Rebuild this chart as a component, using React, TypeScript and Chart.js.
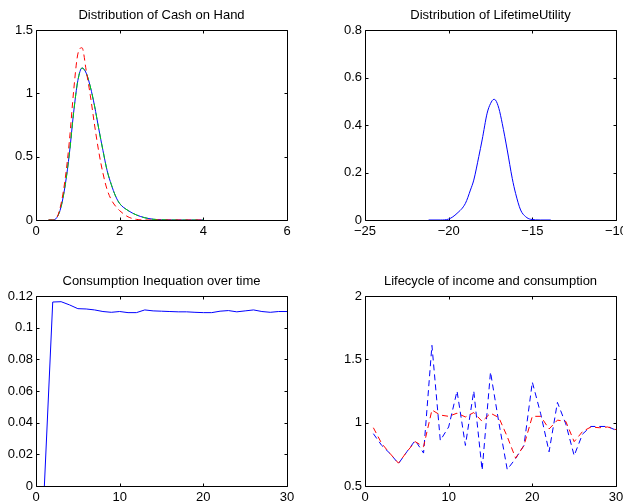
import React, { useEffect, useRef } from "react";
import { Chart, registerables } from "chart.js";

Chart.register(...registerables);

// ---------- data ----------
const cashGrid = [0.3, 0.4, 0.5, 0.6, 0.7, 0.8, 0.9, 1.0, 1.1, 1.2, 1.3, 1.4, 1.5, 1.6, 1.7, 1.8, 1.9, 2.0, 2.2, 2.4, 2.6, 2.8, 3.0, 3.5, 4.0];
const cashDensityMain = [0, 0, 0.02, 0.105, 0.28, 0.53, 0.85, 1.1, 1.2, 1.16, 1.05, 0.9, 0.72, 0.55, 0.39, 0.28, 0.19, 0.13, 0.075, 0.04, 0.018, 0.006, 0.002, 0, 0];
const cashDensityAlt = [0, 0, 0.02, 0.13, 0.33, 0.63, 1.02, 1.31, 1.36, 1.18, 0.98, 0.75, 0.54, 0.37, 0.24, 0.16, 0.11, 0.074, 0.025, 0.005, 0, 0, 0, 0, 0];

const utilityGrid = [-21.2, -20.5, -20.0, -19.5, -19.0, -18.7, -18.5, -18.2, -18.0, -17.7, -17.5, -17.3, -17.2, -17.0, -16.8, -16.5, -16.2, -16.0, -15.7, -15.4, -15.1, -14.5, -13.9];
const utilityDensity = [0, 0, 0.004, 0.028, 0.07, 0.126, 0.168, 0.267, 0.337, 0.45, 0.49, 0.508, 0.505, 0.47, 0.407, 0.295, 0.175, 0.112, 0.042, 0.014, 0.003, 0, 0];

const periods = [1, 2, 3, 4, 5, 6, 7, 8, 9, 10, 11, 12, 13, 14, 15, 16, 17, 18, 19, 20, 21, 22, 23, 24, 25, 26, 27, 28, 29, 30];
const inequality = [0, 0.1162, 0.1164, 0.1144, 0.112, 0.1118, 0.1112, 0.1102, 0.1097, 0.1102, 0.1095, 0.1095, 0.1112, 0.1106, 0.1104, 0.1102, 0.11, 0.11, 0.1097, 0.1095, 0.1095, 0.1104, 0.1108, 0.11, 0.1106, 0.1112, 0.1102, 0.1097, 0.1102, 0.1102];
const income = [0.913, 0.82, 0.756, 0.677, 0.77, 0.86, 0.76, 1.61, 0.86, 0.966, 1.25, 0.82, 1.25, 0.625, 1.4, 1.0, 0.63, 0.717, 0.82, 1.32, 1.07, 0.77, 1.16, 0.99, 0.74, 0.91, 0.97, 0.97, 0.97, 0.94];
const consumption = [0.96, 0.835, 0.756, 0.68, 0.77, 0.85, 0.81, 1.1, 1.06, 1.05, 1.075, 1.045, 1.08, 1.01, 1.075, 1.04, 0.89, 0.72, 0.82, 1.05, 1.05, 0.95, 1.02, 1.01, 0.85, 0.93, 0.966, 0.96, 0.966, 0.945];

const cashXTicks = [0, 2, 4, 6];
const cashYTicks = [0, 0.5, 1, 1.5];
const utilityXTicks = [-25, -20, -15, -10];
const utilityYTicks = [0, 0.2, 0.4, 0.6, 0.8];
const timeXTicks = [0, 10, 20, 30];
const inequalityYTicks = [0, 0.02, 0.04, 0.06, 0.08, 0.1, 0.12];
const lifecycleYTicks = [0.5, 1, 1.5, 2];

const titles = [
  "Distribution of Cash on Hand",
  "Distribution of LifetimeUtility",
  "Consumption Inequation over time",
  "Lifecycle of income and consumption",
];

// ---------- style ----------
const BLUE = "#0000ff";
const RED = "#ff0000";
const GREEN = "#00d400";
const FONT = "'Liberation Sans', Arial, Helvetica, sans-serif";
const Y_W = 30;
const X_H = 22;
const R_W = 15;
const TITLE_LINE = 15.6;
const TITLE_GAP = 7.2;
const TITLE_H = TITLE_LINE + TITLE_GAP;
const TICK_LEN = 3;

const pts = (xs: number[], ys: number[]) => xs.map((x, i) => ({ x, y: ys[i] }));
const fmt = (v: number | string) => String(+Number(v).toFixed(4)).replace("-", "\u2212");

const boxPlugin = {
  id: "matlabBox",
  beforeDatasetsDraw(chart: any) {
    const { ctx, chartArea: a, scales } = chart;
    const l = Math.round(a.left) + 0.5;
    const r = Math.round(a.right) + 0.5;
    const t = Math.round(a.top) + 0.5;
    const b = Math.round(a.bottom) + 0.5;
    ctx.save();
    ctx.strokeStyle = "#000";
    ctx.lineWidth = 1;
    ctx.beginPath();
    ctx.rect(l, t, r - l, b - t);
    const xs = scales.x;
    const ys = scales.y;
    xs.ticks.forEach((tk: any) => {
      const px = Math.round(xs.getPixelForValue(tk.value)) + 0.5;
      ctx.moveTo(px, b);
      ctx.lineTo(px, b - TICK_LEN);
      ctx.moveTo(px, t);
      ctx.lineTo(px, t + TICK_LEN);
    });
    ys.ticks.forEach((tk: any) => {
      const py = Math.round(ys.getPixelForValue(tk.value)) + 0.5;
      ctx.moveTo(l, py);
      ctx.lineTo(l + TICK_LEN, py);
      ctx.moveTo(r, py);
      ctx.lineTo(r - TICK_LEN, py);
    });
    ctx.stroke();
    ctx.restore();
  },
};

type Panel = {
  canvas: { left: number; top: number; width: number; height: number };
  plot: { l: number; r: number; t: number; b: number };
  title: string;
  xTicks: number[];
  yTicks: number[];
  datasets: any[];
};

const lineDs = (data: any[], color: string, dash: number[] = [], smooth = false) => ({
  data,
  borderColor: color,
  borderWidth: 1,
  borderDash: dash,
  pointRadius: 0,
  fill: false,
  tension: 0,
  cubicInterpolationMode: smooth ? "monotone" : "default",
});

const panels: Panel[] = [
  {
    canvas: { left: 0, top: 0, width: 330, height: 251 },
    plot: { l: 36, r: 287, t: 30, b: 220 },
    title: titles[0],
    xTicks: cashXTicks,
    yTicks: cashYTicks,
    datasets: [
      lineDs(pts(cashGrid, cashDensityAlt), RED, [6, 4], true),
      lineDs(pts(cashGrid, cashDensityMain), GREEN, [6, 4], true),
      lineDs(pts(cashGrid, cashDensityMain), BLUE, [], true),
    ],
  },
  {
    canvas: { left: 311, top: 0, width: 330, height: 251 },
    plot: { l: 365, r: 616, t: 30, b: 220 },
    title: titles[1],
    xTicks: utilityXTicks,
    yTicks: utilityYTicks,
    datasets: [lineDs(pts(utilityGrid, utilityDensity), BLUE, [], true)],
  },
  {
    canvas: { left: 0, top: 251, width: 330, height: 275 },
    plot: { l: 36, r: 287, t: 296, b: 486 },
    title: titles[2],
    xTicks: timeXTicks,
    yTicks: inequalityYTicks,
    datasets: [lineDs(pts(periods, inequality), BLUE)],
  },
  {
    canvas: { left: 311, top: 251, width: 330, height: 275 },
    plot: { l: 365, r: 616, t: 296, b: 486 },
    title: titles[3],
    xTicks: timeXTicks,
    yTicks: lifecycleYTicks,
    datasets: [
      lineDs(pts(periods, consumption), RED, [6, 4]),
      lineDs(pts(periods, income), BLUE, [6, 4]),
    ],
  },
];

function makeConfig(p: Panel): any {
  const { canvas: c, plot } = p;
  const padding = {
    left: plot.l - c.left - Y_W,
    right: c.left + c.width - plot.r - R_W,
    top: plot.t - c.top - TITLE_H,
    bottom: c.top + c.height - plot.b - X_H,
  };
  const tickFont = { family: FONT, size: 13, lineHeight: 1.2 };
  return {
    type: "line",
    data: { datasets: p.datasets },
    plugins: [boxPlugin],
    options: {
      animation: false,
      responsive: false,
      events: [],
      layout: { padding },
      plugins: {
        legend: { display: false },
        tooltip: { enabled: false },
        title: {
          display: true,
          text: p.title,
          fullSize: false,
          color: "#000",
          font: { family: FONT, size: 13, weight: "normal", lineHeight: 1.2 },
          padding: { top: 0, bottom: TITLE_GAP },
        },
      },
      scales: {
        x: {
          type: "linear",
          position: "bottom",
          min: p.xTicks[0],
          max: p.xTicks[p.xTicks.length - 1],
          afterBuildTicks: (s: any) => {
            s.ticks = p.xTicks.map((v) => ({ value: v }));
          },
          afterFit: (s: any) => {
            s.height = X_H;
          },
          grid: { display: false, drawTicks: false },
          border: { display: false },
          ticks: {
            font: tickFont,
            color: "#000",
            padding: 4,
            maxRotation: 0,
            autoSkip: false,
            callback: (v: any) => fmt(v),
          },
        },
        y: {
          type: "linear",
          position: "left",
          min: p.yTicks[0],
          max: p.yTicks[p.yTicks.length - 1],
          afterBuildTicks: (s: any) => {
            s.ticks = p.yTicks.map((v) => ({ value: v }));
          },
          afterFit: (s: any) => {
            s.width = Y_W;
          },
          grid: { display: false, drawTicks: false },
          border: { display: false },
          ticks: {
            font: tickFont,
            color: "#000",
            padding: 3,
            autoSkip: false,
            callback: (v: any) => fmt(v),
          },
        },
        yRight: {
          type: "linear",
          position: "right",
          display: true,
          afterFit: (s: any) => {
            s.width = R_W;
          },
          grid: { display: false, drawTicks: false },
          border: { display: false },
          ticks: { display: false },
        },
      },
    },
  };
}

function PanelChart({ p }: { p: Panel }) {
  const ref = useRef<HTMLCanvasElement | null>(null);
  useEffect(() => {
    if (!ref.current) return;
    const chart = new Chart(ref.current, makeConfig(p));
    return () => chart.destroy();
  }, [p]);
  return (
    <canvas
      ref={ref}
      width={p.canvas.width}
      height={p.canvas.height}
      style={{
        position: "absolute",
        left: p.canvas.left,
        top: p.canvas.top,
        width: p.canvas.width,
        height: p.canvas.height,
      }}
    />
  );
}

export default function App() {
  return (
    <div
      style={{
        position: "absolute",
        left: 0,
        top: 0,
        width: 623,
        height: 502,
        overflow: "hidden",
        background: "#fff",
      }}
    >
      {panels.map((p, i) => (
        <PanelChart key={i} p={p} />
      ))}
    </div>
  );
}
